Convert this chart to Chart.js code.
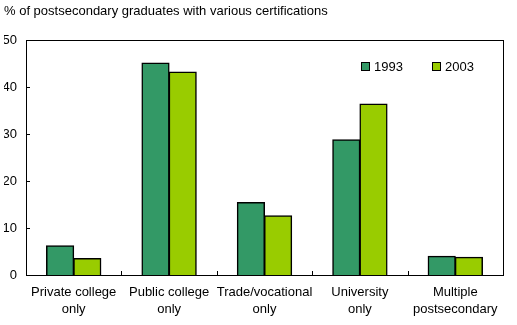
<!DOCTYPE html>
<html>
<head>
<meta charset="utf-8">
<script src="https://cdn.jsdelivr.net/npm/chart.js@4"></script>
<style>
html,body{margin:0;padding:0;background:#fff;}
canvas{display:block;}
</style>
</head>
<body>
<canvas id="c" width="517" height="325"></canvas>
<script>
const categories = [["Private college","only"],["Public college","only"],["Trade/vocational","only"],["University","only"],["Multiple","postsecondary"]];
const seriesNames = ["1993","2003"];
const values1993 = [6.2, 45.1, 15.4, 28.8, 4.0];
const values2003 = [3.5, 43.2, 12.6, 36.4, 3.8];
const yTicks = [0, 10, 20, 30, 40, 50];
const titleText = "% of postsecondary graduates with various certifications";

const FONT = "'Liberation Sans', Arial, sans-serif";
const colors = ["#339966", "#99CC00"];

const framePlugin = {
  id: 'frame',
  afterDatasetsDraw(chart) {
    const {ctx, chartArea: a, scales} = chart;
    ctx.save();
    ctx.strokeStyle = '#000';
    ctx.lineWidth = 1;
    ctx.strokeRect(Math.round(a.left) + 0.5, Math.round(a.top) + 0.5, Math.round(a.right - a.left), Math.round(a.bottom - a.top));
    ctx.beginPath();
    yTicks.forEach(v => {
      const y = Math.round(scales.y.getPixelForValue(v)) + 0.5;
      ctx.moveTo(a.left, y); ctx.lineTo(a.left + 4, y);
    });
    const n = categories.length;
    for (let i = 1; i < n; i++) {
      const x = Math.round((scales.x.getPixelForValue(i - 1) + scales.x.getPixelForValue(i)) / 2) + 0.5;
      ctx.moveTo(x, a.bottom); ctx.lineTo(x, a.bottom - 4);
    }
    ctx.stroke();
    ctx.font = "13px " + FONT;
    ctx.textBaseline = 'middle';
    ctx.textAlign = 'left';
    const lx = [361, 432];
    seriesNames.forEach((s, i) => {
      ctx.fillStyle = colors[i];
      ctx.fillRect(lx[i] + 0.5, 62.5, 8, 8);
      ctx.strokeStyle = '#000';
      ctx.strokeRect(lx[i] + 0.5, 62.5, 8, 8);
      ctx.fillStyle = '#000';
      ctx.fillText(s, lx[i] + 13, 67);
    });
    ctx.restore();
  }
};

new Chart(document.getElementById('c'), {
  type: 'bar',
  data: {
    labels: categories,
    datasets: [
      {label: seriesNames[0], data: values1993, backgroundColor: colors[0], borderColor: '#000', borderWidth: 1.5, inflateAmount: 0.5, categoryPercentage: 0.57, barPercentage: 1},
      {label: seriesNames[1], data: values2003, backgroundColor: colors[1], borderColor: '#000', borderWidth: 1.5, inflateAmount: 0.5, categoryPercentage: 0.57, barPercentage: 1}
    ]
  },
  options: {
    responsive: false,
    animation: false,
    layout: {padding: {left: 4, right: 14, top: 0, bottom: 0}},
    plugins: {
      legend: {display: false},
      tooltip: {enabled: false},
      title: {
        display: true, text: titleText, align: 'start', color: '#000',
        font: {family: FONT, size: 13, weight: 'normal', lineHeight: 1.2},
        padding: {top: 4, bottom: 20.4}
      }
    },
    scales: {
      x: {
        grid: {display: false, drawTicks: false},
        border: {display: true, color: '#000'},
        ticks: {color: '#000', padding: 9, maxRotation: 0, autoSkip: false, font: {family: FONT, size: 13, lineHeight: 1.3}},
        afterFit(s) { s.height = 50; }
      },
      y: {
        min: 0, max: 50,
        grid: {display: false, drawTicks: false},
        border: {display: true, color: '#000'},
        afterBuildTicks(s) { s.ticks = yTicks.map(v => ({value: v})); },
        ticks: {color: '#000', padding: 9, font: {family: FONT, size: 13}},
        afterFit(s) { s.width = 22; }
      }
    }
  },
  plugins: [framePlugin]
});
</script>
</body>
</html>
